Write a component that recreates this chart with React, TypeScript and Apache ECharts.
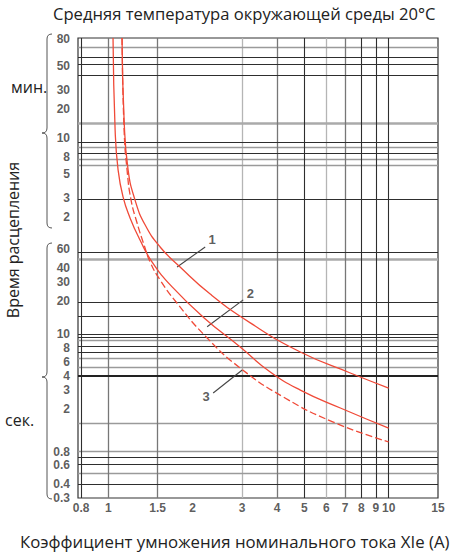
import React, { useEffect, useRef } from "react";
import * as echarts from "echarts";

// ---- data ----
const X_MIN = 0.78;
const X_MAX = 15;
const Y_MIN = 0.3;
const Y_MAX = 5400; // seconds

const xTickValues = [0.8, 1, 1.5, 2, 3, 4, 5, 6, 7, 8, 9, 10, 15];
const minuteTicks = [80, 50, 30, 20, 10, 8, 5, 3, 2];
const secondTicks = [60, 40, 30, 20, 10, 8, 6, 4, 3, 2, 0.8, 0.6, 0.4, 0.3];

const vLinesDark = [0.8, 5, 8, 9, 10];
const vLinesMid = [1, 1.5, 4, 7];
const vLinesLight = [3, 6];

const hLinesDark = [3602, 3104, 2455, 589, 466, 175, 56.6, 19.5, 14.5, 9.87, 9.26, 7.64, 6.72, 0.719, 0.619, 0.404];
const hLinesDarkThick = [4.03];
const hLinesGray = [4458, 530, 410, 361, 8.68, 5.92, 4.89, 1.48, 0.816, 0.511];
const hLinesGrayThick = [883, 48.8];

// curves: [current multiple, trip time in seconds]
const curve1 = [[1.12, 5400], [1.139, 941], [1.177, 325], [1.246, 171], [1.353, 101], [1.531, 63], [1.804, 41.1], [2.31, 23.1], [3.21, 12.5], [4.842, 6.72], [7.3, 4.3], [10, 3.12]];
const curve2 = [[1.04, 5400], [1.058, 761], [1.084, 325], [1.129, 183], [1.196, 117], [1.298, 73.1], [1.434, 45.7], [1.69, 26.9], [2.198, 13.9], [2.956, 7.48], [3.783, 4.39], [4.842, 2.99], [6.728, 2.04], [10, 1.33]];
const curve3 = [[1.12, 5400], [1.139, 761], [1.167, 325], [1.206, 171], [1.267, 105], [1.342, 65.7], [1.41, 45.7], [1.531, 31.2], [1.746, 19.5], [2.235, 9.26], [2.956, 4.78], [4.211, 2.58], [6.349, 1.51], [10, 0.99]];

// curve callouts (data coordinates)
const calloutNames = ["1", "2", "3"];
const calloutFrom = [[1.76, 41.1], [2.253, 11.5], [2.367, 2.81]];
const calloutTo = [[2.217, 63], [3.029, 20.4], [3.005, 4.58]];
const calloutText = [[2.348, 73.1], [3.21, 23.6], [2.235, 2.63]];

const TITLE = "Средняя температура окружающей среды 20°C";
const X_NAME = "Коэффициент умножения номинального тока XIe (A)";
const Y_NAME = "Время расцепления";
const MIN_UNIT = "мин.";
const SEC_UNIT = "сек.";

// small vertical nudges (px) so that crowded tick labels do not overlap
const minuteNudge: Record<string, number> = { "80": -5, "10": -3, "8": 5 };
const secondNudge: Record<string, number> = { "10": 1, "8": 4, "6": 5 };

echarts.graphic.registerShape(
  "braceTop",
  echarts.graphic.extendPath("M10,0 Q5,0 5,5 L5,94 Q5,99 0,99 Q5,99 5,104 L5,189 Q5,194 10,194", {})
);
echarts.graphic.registerShape(
  "braceBottom",
  echarts.graphic.extendPath("M10,0 Q5,0 5,5 L5,129 Q5,134 0,134 Q5,134 5,139 L5,251 Q5,256 10,256", {})
);

const tickFont = { color: "#333", fontSize: 12, fontWeight: "bold" as const, fontFamily: "Liberation Sans" };

function gridSeries(name: string, xs: number[], ys: number[], color: string, width: number) {
  return {
    name,
    type: "line",
    data: [],
    z: 1,
    silent: true,
    markLine: {
      silent: true,
      symbol: ["none", "none"],
      label: { show: false },
      emphasis: { disabled: true },
      lineStyle: { color, width, type: "solid" },
      data: [...xs.map((v) => ({ xAxis: v })), ...ys.map((v) => ({ yAxis: v }))],
    },
  };
}

function labelSeries(data: any[], position: string, distance: number, font: any) {
  return {
    type: "scatter",
    data,
    symbolSize: 0,
    clip: false,
    silent: true,
    z: 10,
    itemStyle: { color: "transparent" },
    label: {
      show: true,
      position,
      distance,
      formatter: (p: any) => p.value[2],
      ...font,
    },
  };
}

function curveSeries(name: string, data: number[][], dashed: boolean) {
  return {
    name,
    type: "line",
    data,
    showSymbol: false,
    smooth: 0.5,
    z: 5,
    lineStyle: { color: "#f04a38", width: 1.3, type: dashed ? [7, 3] : "solid" },
  };
}

export default function App() {
  const ref = useRef<HTMLDivElement>(null);
  useEffect(() => {
    if (!ref.current) return;
    const chart = echarts.init(ref.current, undefined, { renderer: "svg" });
    const textFont = { fontSize: 16, fontFamily: "Open Sans", fill: "#222" };
    const option: any = {
      animation: false,
      backgroundColor: "#fff",
      title: [
        {
          text: TITLE,
          left: 48,
          top: 0,
          textStyle: { fontSize: 16.6, fontWeight: "normal", color: "#222", fontFamily: "Open Sans" },
        },
        {
          text: X_NAME,
          left: 15,
          top: 528,
          textStyle: { fontSize: 16.8, fontWeight: "normal", color: "#222", fontFamily: "Open Sans" },
        },
      ],
      grid: {
        left: 78,
        top: 38,
        width: 360,
        height: 460,
        show: true,
        borderColor: "#333",
        borderWidth: 1.2,
        backgroundColor: "#fff",
      },
      xAxis: {
        type: "log",
        min: X_MIN,
        max: X_MAX,
        axisLine: { show: false },
        axisTick: { show: false },
        axisLabel: { show: false },
        splitLine: { show: false },
      },
      yAxis: {
        type: "log",
        min: Y_MIN,
        max: Y_MAX,
        axisLine: { show: false },
        axisTick: { show: false },
        axisLabel: { show: false },
        splitLine: { show: false },
      },
      graphic: [
        { type: "braceTop", x: 42, y: 34, style: { stroke: "#555", fill: "none", lineWidth: 1 } },
        { type: "braceBottom", x: 42, y: 243, style: { stroke: "#555", fill: "none", lineWidth: 1 } },
        {
          type: "text",
          x: 11,
          y: 87,
          style: { text: MIN_UNIT, ...textFont, align: "left", verticalAlign: "middle" },
        },
        {
          type: "text",
          x: 5,
          y: 420,
          style: { text: SEC_UNIT, ...textFont, align: "left", verticalAlign: "middle" },
        },
        {
          type: "text",
          x: 13,
          y: 240,
          rotation: Math.PI / 2,
          style: { text: Y_NAME, ...textFont, align: "center", verticalAlign: "middle" },
        },
      ],
      series: [
        gridSeries("gLight", vLinesLight, [], "#b5b5b5", 1.3),
        gridSeries("gGray", [], hLinesGray, "#9a9a9a", 1.3),
        gridSeries("gGrayThick", [], hLinesGrayThick, "#aaaaaa", 2.6),
        gridSeries("gMid", vLinesMid, [], "#777", 1.3),
        gridSeries("gDark", vLinesDark, hLinesDark, "#2e2e2e", 1.1),
        gridSeries("gDarkThick", [], hLinesDarkThick, "#222", 1.8),
        curveSeries("1", curve1, false),
        curveSeries("2", curve2, false),
        curveSeries("3", curve3, true),
        {
          name: "callouts",
          type: "line",
          data: [],
          z: 6,
          markLine: {
            silent: true,
            symbol: ["none", "none"],
            label: { show: false },
            emphasis: { disabled: true },
            lineStyle: { color: "#444", width: 1.1, type: "solid" },
            data: calloutNames.map((_, i) => [{ coord: calloutFrom[i] }, { coord: calloutTo[i] }]),
          },
        },
        labelSeries(
          calloutNames.map((n, i) => [calloutText[i][0], calloutText[i][1], n]),
          "inside",
          0,
          { color: "#333", fontSize: 13, fontWeight: "bold", fontFamily: "Liberation Sans" }
        ),
        labelSeries(
          xTickValues.map((v) => [v, Y_MIN, String(v)]),
          "bottom",
          4,
          tickFont
        ),
        labelSeries(
          minuteTicks.map((m) => ({
            value: [X_MIN, m * 60, String(m)],
            label: { offset: [0, minuteNudge[String(m)] || 0] },
          })),
          "left",
          8,
          tickFont
        ),
        labelSeries(
          secondTicks.map((s) => ({
            value: [X_MIN, s, String(s)],
            label: { offset: [0, secondNudge[String(s)] || 0] },
          })),
          "left",
          8,
          tickFont
        ),
      ],
    };
    chart.setOption(option);
    return () => chart.dispose();
  }, []);
  return <div ref={ref} style={{ position: "absolute", left: 0, top: 0, width: 450, height: 554 }} />;
}
